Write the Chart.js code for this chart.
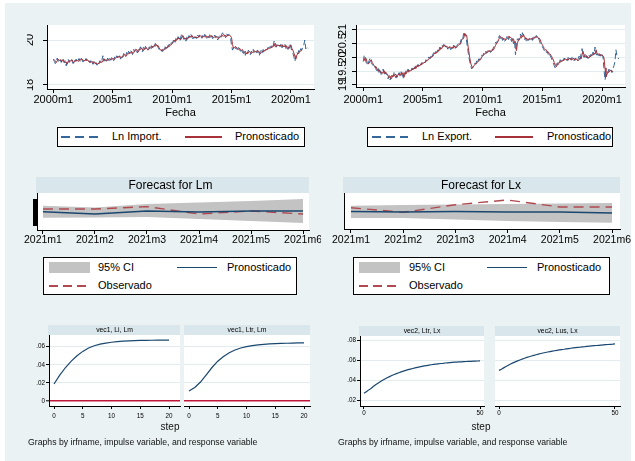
<!DOCTYPE html>
<html>
<head>
<meta charset="utf-8">
<title>Ajuste, pronóstico e impulso-respuesta</title>
<script src="https://cdn.jsdelivr.net/npm/chart.js@4.4.1/dist/chart.umd.min.js"></script>
<style>
  body { margin: 0; width: 635px; height: 461px; overflow: hidden; background: #fff; position: relative;
         font-family: "Liberation Sans", Arial, sans-serif; color: #000; }
  #bg { position: absolute; left: 5px; top: 3px; width: 626px; height: 458px; background: #eaf2f3; }
  canvas { position: absolute; }
  .legend { position: absolute; background: #fff; border: 1px solid #000; box-sizing: border-box; }
  .legend span { position: absolute; display: block; }
  .lab { font-size: 11px; line-height: 13px; white-space: nowrap; }
  .key { height: 1.5px; }
  .red-solid { background: #a8323a; }
  .blue-solid { background: #1a476f; }
  .blue-dash { background: repeating-linear-gradient(to right, #35679a 0 9px, transparent 9px 14px); }
  .red-dash { background: repeating-linear-gradient(to right, #b04a50 0 9px, transparent 9px 14px); }
  .band { background: #c3c3c3; }
  .note { position: absolute; white-space: nowrap; color: #111; }
</style>
</head>
<body>
<div id="bg"></div>

<canvas id="c-import" width="313" height="120" style="left:5px;top:3px"></canvas>
<canvas id="c-export" width="313" height="120" style="left:318px;top:3px"></canvas>

<div class="legend" style="left:57px;top:127px;width:248px;height:20px">
  <span class="key blue-dash" style="left:3px;top:8px;width:40px"></span>
  <span class="lab" style="left:54px;top:1.5px">Ln Import.</span>
  <span class="key red-solid" style="left:127px;top:8px;width:37px"></span>
  <span class="lab" style="left:177px;top:1.5px">Pronosticado</span>
</div>
<div class="legend" style="left:367px;top:127px;width:246px;height:20px">
  <span class="key blue-dash" style="left:4px;top:8px;width:36px"></span>
  <span class="lab" style="left:54px;top:1.5px">Ln Export.</span>
  <span class="key red-solid" style="left:127px;top:8px;width:38px"></span>
  <span class="lab" style="left:179px;top:1.5px">Pronosticado</span>
</div>

<canvas id="c-fc-lm" width="316" height="90" style="left:5px;top:165px"></canvas>
<canvas id="c-fc-lx" width="310" height="90" style="left:321px;top:165px"></canvas>

<div class="legend" style="left:43px;top:257px;width:254px;height:38px">
  <span class="band" style="left:5px;top:4px;width:41px;height:11px"></span>
  <span class="lab" style="left:54px;top:2.5px">95% CI</span>
  <span class="key blue-solid" style="left:133px;top:8.5px;width:40px"></span>
  <span class="lab" style="left:183px;top:2.5px">Pronosticado</span>
  <span class="key red-dash" style="left:5px;top:27px;width:37px"></span>
  <span class="lab" style="left:54px;top:20.5px">Observado</span>
</div>
<div class="legend" style="left:353px;top:257px;width:257px;height:38px">
  <span class="band" style="left:5px;top:4px;width:41px;height:11px"></span>
  <span class="lab" style="left:55px;top:2.5px">95% CI</span>
  <span class="key blue-solid" style="left:133px;top:8.5px;width:40px"></span>
  <span class="lab" style="left:183px;top:2.5px">Pronosticado</span>
  <span class="key red-dash" style="left:5px;top:27px;width:38px"></span>
  <span class="lab" style="left:55px;top:20.5px">Observado</span>
</div>

<canvas id="c-irf-li" width="191" height="102" style="left:5px;top:318px"></canvas>
<canvas id="c-irf-ltr" width="130" height="102" style="left:184px;top:318px"></canvas>
<canvas id="c-irf2-ltr" width="179" height="102" style="left:321px;top:318px"></canvas>
<canvas id="c-irf2-lus" width="130" height="102" style="left:495px;top:318px"></canvas>

<div class="note" style="left:150px;top:421px;width:40px;text-align:center;font-size:10px;line-height:12px">step</div>
<div class="note" style="left:461px;top:421px;width:40px;text-align:center;font-size:10px;line-height:12px">step</div>
<div class="note" style="left:28px;top:437px;font-size:8.7px;line-height:10px">Graphs by irfname, impulse variable, and response variable</div>
<div class="note" style="left:338px;top:437px;font-size:8.7px;line-height:10px">Graphs by irfname, impulse variable, and response variable</div>

<script>
// Monthly series, 2000m1 - 2021m6 (Ln Import.)
const lmActual = [
  19.15, 19.05, 18.95, 19.10, 19.20, 19.05, 19.15, 19.12, 19.00, 19.18, 19.10, 18.98,
  19.08, 18.85, 19.05, 19.15, 19.00, 19.10, 19.18, 19.05, 18.95, 19.12, 19.05, 19.15,
  19.00, 19.10, 19.18, 19.05, 19.20, 19.12, 19.02, 19.15, 19.08, 19.18, 19.10, 19.00,
  19.08, 18.98, 19.10, 19.02, 18.92, 19.05, 18.90, 19.00, 18.88, 19.02, 18.95, 19.08,
  18.98, 19.10, 19.30, 19.05, 19.15, 19.00, 19.12, 19.20, 19.05, 19.18, 19.10, 19.25,
  19.15, 19.08, 19.25, 19.18, 19.30, 19.20, 19.35, 19.25, 19.15, 19.32, 19.22, 19.40,
  19.30, 19.25, 19.45, 19.35, 19.50, 19.38, 19.55, 19.45, 19.35, 19.58, 19.48, 19.62,
  19.50, 19.42, 19.65, 19.55, 19.70, 19.58, 19.48, 19.68, 19.55, 19.72, 19.60, 19.52,
  19.62, 19.70, 19.58, 19.75, 19.65, 19.80, 19.72, 19.85, 19.70, 19.78, 19.65, 19.58,
  19.50, 19.58, 19.48, 19.62, 19.55, 19.70, 19.62, 19.78, 19.68, 19.82, 19.75, 19.88,
  19.85, 19.95, 20.05, 19.90, 20.10, 20.00, 20.15, 20.05, 19.95, 20.18, 20.28, 20.10,
  20.02, 20.12, 19.95, 20.15, 20.05, 20.20, 20.10, 20.25, 20.12, 20.05, 20.18, 20.08,
  20.15, 20.05, 20.22, 20.12, 20.25, 20.15, 20.08, 20.20, 20.10, 20.25, 20.15, 20.05,
  20.18, 20.10, 20.25, 20.12, 20.20, 20.05, 20.15, 20.22, 20.10, 20.18, 20.00, 20.12,
  20.20, 20.10, 20.25, 20.32, 20.15, 20.22, 20.10, 20.28, 20.18, 20.25, 20.20, 20.12,
  19.75, 19.55, 19.68, 19.60, 19.72, 19.65, 19.55, 19.68, 19.58, 19.50, 19.62, 19.45,
  19.40, 19.55, 19.32, 19.48, 19.38, 19.55, 19.45, 19.35, 19.50, 19.42, 19.58, 19.45,
  19.50, 19.40, 19.55, 19.45, 19.30, 19.48, 19.55, 19.42, 19.58, 19.50, 19.62, 19.55,
  19.60, 19.68, 19.58, 19.72, 19.65, 19.78, 19.70, 19.95, 19.75, 19.68, 19.82, 19.72,
  19.78, 19.70, 19.85, 19.65, 19.75, 19.68, 19.80, 19.62, 19.72, 19.58, 19.70, 19.85,
  19.65, 19.52, 19.40, 19.25, 19.05, 19.30, 19.45, 19.38, 19.55, 19.48, 19.62, 19.55,
  19.72, 19.78, 20.00, 19.60, 19.70, 19.63
];

// Pronosticado for imports, 2000m2 - 2020m12
const lmFitted = [
  19.12, 19.08, 19.00, 19.08, 19.15, 19.08, 19.12, 19.08, 19.06, 19.14, 19.05,
  19.00, 19.02, 18.92, 19.05, 19.08, 19.04, 19.10, 19.12, 19.02, 19.00, 19.08, 19.08,
  19.10, 19.05, 19.08, 19.14, 19.10, 19.15, 19.10, 19.06, 19.12, 19.10, 19.14, 19.08,
  19.04, 19.05, 19.00, 19.06, 18.98, 18.96, 19.00, 18.94, 18.96, 18.92, 18.98, 18.98,
  19.04, 19.00, 19.08, 19.18, 19.10, 19.10, 19.06, 19.14, 19.12, 19.10, 19.14, 19.14,
  19.20, 19.15, 19.14, 19.22, 19.22, 19.26, 19.24, 19.30, 19.22, 19.22, 19.28, 19.28,
  19.36, 19.32, 19.30, 19.40, 19.38, 19.45, 19.42, 19.50, 19.42, 19.42, 19.52, 19.52,
  19.58, 19.50, 19.48, 19.60, 19.58, 19.65, 19.56, 19.52, 19.62, 19.60, 19.66, 19.58,
  19.56, 19.62, 19.66, 19.62, 19.72, 19.68, 19.76, 19.72, 19.80, 19.72, 19.74, 19.64,
  19.58, 19.52, 19.56, 19.52, 19.60, 19.58, 19.66, 19.64, 19.74, 19.70, 19.78, 19.78,
  19.86, 19.88, 19.96, 20.00, 19.96, 20.06, 20.04, 20.10, 20.02, 20.02, 20.16, 20.20,
  20.08, 20.06, 20.08, 20.02, 20.12, 20.10, 20.16, 20.14, 20.20, 20.12, 20.10, 20.14,
  20.10, 20.12, 20.10, 20.18, 20.15, 20.20, 20.14, 20.12, 20.16, 20.14, 20.20, 20.12,
  20.10, 20.14, 20.12, 20.20, 20.14, 20.16, 20.10, 20.14, 20.18, 20.12, 20.14, 20.06,
  20.12, 20.16, 20.14, 20.22, 20.26, 20.18, 20.20, 20.14, 20.24, 20.20, 20.22, 20.18,
  20.10, 19.80, 19.62, 19.66, 19.62, 19.68, 19.62, 19.58, 19.64, 19.58, 19.54, 19.58,
  19.48, 19.45, 19.50, 19.38, 19.45, 19.42, 19.50, 19.45, 19.40, 19.46, 19.44, 19.52,
  19.48, 19.48, 19.44, 19.52, 19.46, 19.38, 19.46, 19.50, 19.46, 19.54, 19.52, 19.58,
  19.56, 19.60, 19.64, 19.62, 19.68, 19.66, 19.74, 19.72, 19.86, 19.74, 19.72, 19.78,
  19.74, 19.76, 19.74, 19.80, 19.70, 19.74, 19.70, 19.76, 19.66, 19.70, 19.62, 19.70,
  19.78, 19.62, 19.54, 19.42, 19.28, 19.15, 19.32, 19.42, 19.40, 19.52, 19.50, 19.58
];

// Monthly series, 2000m1 - 2021m6 (Ln Export.)
const lxActual = [
  19.85, 20.08, 19.95, 19.80, 19.72, 19.78, 19.90, 19.98, 19.82, 19.75, 19.70, 19.62,
  19.68, 19.55, 19.48, 19.60, 19.42, 19.52, 19.38, 19.45, 19.58, 19.35, 19.48, 19.40,
  19.32, 19.22, 19.35, 19.18, 19.28, 19.40, 19.30, 19.45, 19.35, 19.25, 19.42, 19.38,
  19.45, 19.32, 19.48, 19.40, 19.22, 19.50, 19.38, 19.52, 19.45, 19.58, 19.48, 19.55,
  19.52, 19.62, 19.55, 19.68, 19.58, 19.72, 19.65, 19.75, 19.68, 19.80, 19.72, 19.82,
  19.78, 19.85, 19.80, 19.92, 19.88, 19.95, 20.02, 19.95, 20.08, 20.02, 20.12, 20.18,
  20.10, 20.22, 20.18, 20.30, 20.25, 20.38, 20.32, 20.45, 20.40, 20.48, 20.35, 20.42,
  20.38, 20.30, 20.42, 20.35, 20.28, 20.40, 20.32, 20.45, 20.30, 20.38, 20.42, 20.48,
  20.52, 20.45, 20.62, 20.70, 20.65, 20.92, 20.80, 20.85, 20.55, 20.30, 20.05, 19.85,
  19.70, 19.58, 19.65, 19.72, 19.80, 19.75, 19.88, 19.82, 19.95, 19.90, 20.02, 20.08,
  20.05, 20.15, 20.10, 20.22, 20.15, 20.28, 20.20, 20.25, 20.18, 20.32, 20.25, 20.38,
  20.42, 20.55, 20.50, 20.65, 20.72, 20.80, 20.68, 20.75, 20.62, 20.70, 20.58, 20.65,
  20.72, 20.80, 20.65, 20.78, 20.70, 20.58, 20.72, 20.50, 20.62, 20.10, 20.55, 20.68,
  20.62, 20.75, 20.85, 20.70, 20.90, 20.78, 20.65, 20.72, 20.58, 20.68, 20.62, 20.70,
  20.65, 20.72, 20.62, 20.78, 20.70, 20.75, 20.80, 20.68, 20.72, 20.62, 20.50, 20.45,
  20.40, 20.32, 20.25, 20.30, 20.18, 20.22, 20.10, 20.15, 20.05, 19.98, 19.90, 19.80,
  19.70, 19.62, 19.78, 19.72, 19.85, 19.80, 19.92, 19.85, 19.95, 19.88, 19.98, 19.90,
  19.95, 19.88, 20.00, 19.92, 19.98, 19.90, 20.02, 19.95, 19.88, 19.98, 19.92, 19.85,
  19.95, 20.05, 19.92, 20.15, 20.32, 20.08, 20.00, 20.12, 19.98, 20.05, 19.95, 20.08,
  20.02, 20.12, 20.05, 20.20, 20.10, 20.38, 20.15, 20.08, 20.18, 20.05, 20.12, 20.00,
  20.10, 20.02, 19.55, 19.18, 19.35, 19.50, 19.45, 19.58, 19.48, 19.55, 19.45, 19.60,
  19.70, 19.85, 20.28, 20.05, 19.98, 19.95
];

// Pronosticado for exports, 2000m2 - 2020m12
const lxFitted = [
  19.88, 20.00, 19.95, 19.82, 19.76, 19.80, 19.88, 19.92, 19.82, 19.76, 19.70,
  19.65, 19.66, 19.55, 19.50, 19.56, 19.46, 19.48, 19.42, 19.48, 19.52, 19.40, 19.45,
  19.40, 19.32, 19.26, 19.32, 19.22, 19.28, 19.36, 19.32, 19.40, 19.35, 19.28, 19.38,
  19.38, 19.42, 19.35, 19.45, 19.38, 19.28, 19.45, 19.40, 19.50, 19.46, 19.54, 19.50,
  19.54, 19.54, 19.60, 19.58, 19.65, 19.60, 19.70, 19.66, 19.72, 19.70, 19.77, 19.74,
  19.80, 19.80, 19.84, 19.84, 19.90, 19.90, 19.96, 20.00, 19.98, 20.05, 20.04, 20.12,
  20.16, 20.14, 20.20, 20.20, 20.28, 20.26, 20.35, 20.32, 20.42, 20.40, 20.45, 20.38,
  20.40, 20.38, 20.34, 20.40, 20.36, 20.32, 20.38, 20.35, 20.42, 20.34, 20.38, 20.42,
  20.46, 20.50, 20.50, 20.64, 20.68, 20.70, 20.88, 20.80, 20.80, 20.50, 20.25, 20.00,
  19.80, 19.68, 19.62, 19.68, 19.74, 19.78, 19.78, 19.86, 19.86, 19.94, 19.92, 20.02,
  20.06, 20.08, 20.14, 20.14, 20.20, 20.18, 20.25, 20.22, 20.24, 20.22, 20.30, 20.28,
  20.36, 20.44, 20.52, 20.54, 20.64, 20.72, 20.76, 20.70, 20.72, 20.65, 20.68, 20.62,
  20.66, 20.70, 20.76, 20.70, 20.74, 20.70, 20.62, 20.68, 20.54, 20.58, 20.25, 20.52,
  20.64, 20.64, 20.74, 20.80, 20.74, 20.84, 20.76, 20.68, 20.70, 20.62, 20.66, 20.64,
  20.68, 20.66, 20.70, 20.66, 20.74, 20.72, 20.74, 20.76, 20.70, 20.70, 20.64, 20.52,
  20.46, 20.40, 20.32, 20.28, 20.28, 20.20, 20.20, 20.12, 20.12, 20.06, 20.00, 19.92,
  19.82, 19.72, 19.66, 19.75, 19.74, 19.82, 19.82, 19.88, 19.86, 19.92, 19.90, 19.95,
  19.92, 19.94, 19.90, 19.97, 19.94, 19.96, 19.92, 19.98, 19.94, 19.90, 19.95, 19.92,
  19.88, 19.92, 20.00, 19.95, 20.10, 20.22, 20.06, 20.02, 20.08, 20.00, 20.02, 19.98,
  20.05, 20.04, 20.10, 20.08, 20.16, 20.12, 20.28, 20.14, 20.10, 20.14, 20.08, 20.10,
  20.08, 20.06, 19.98, 19.62, 19.30, 19.38, 19.48, 19.46, 19.54, 19.50, 19.52, 19.48
];

// Tick positions (months since 2000m1) and labels for the date axes
const dateTickMonths = [0, 60, 120, 180, 240];
const dateTickLabels = ['2000m1', '2005m1', '2010m1', '2015m1', '2020m1'];
const lmTickValues = [18, 20];
const lmTickLabels = ['18', '20'];
const lxTickValues = [19, 19.5, 20, 20.5, 21];
const lxTickLabels = ['19', '19.5', '20', '20.5', '21'];

// Out-of-sample forecasts, 2021m1 - 2021m6
const fcMonthTicks = [1, 2, 3, 4, 5, 6];
const fcMonthLabels = ['2021m1', '2021m2', '2021m3', '2021m4', '2021m5', '2021m6'];
const lmForecast = [19.72, 19.665, 19.74, 19.715, 19.74, 19.74];
const lmObserved = [19.79, 19.79, 19.85, 19.665, 19.74, 19.665];
const lmUpper = [19.87, 19.83, 19.915, 19.95, 19.99, 20.04];
const lmLower = [19.57, 19.58, 19.59, 19.54, 19.49, 19.44];
const lxForecast = [20.0, 19.99, 20.0, 19.99, 19.99, 19.97];
const lxObserved = [20.076, 19.984, 20.136, 20.23, 20.09, 20.09];
const lxUpper = [20.116, 20.13, 20.14, 20.15, 20.16, 20.17];
const lxLower = [19.87, 19.87, 19.84, 19.81, 19.79, 19.776];

// Impulse responses, steps 0 - 20 (vec1) and 0 - 50 (vec2)
const irfLiLm = [0.0188, 0.0285, 0.0370, 0.0440, 0.0500, 0.0548, 0.0585, 0.0610, 0.0628, 0.0640, 0.0649,
  0.0656, 0.0661, 0.0664, 0.0667, 0.0669, 0.0670, 0.0671, 0.0672, 0.0672, 0.0673];
const irfLtrLm = [0.0110, 0.0150, 0.0210, 0.0290, 0.0370, 0.0440, 0.0492, 0.0533, 0.0563, 0.0585, 0.0601,
  0.0612, 0.0620, 0.0626, 0.0630, 0.0634, 0.0636, 0.0638, 0.0640, 0.0641, 0.0642];
const irfLtrLx = [0.0275, 0.0290, 0.0305, 0.0322, 0.0340, 0.0357, 0.0373, 0.0388, 0.0402, 0.0415,
  0.0427, 0.0438, 0.0449, 0.0459, 0.0468, 0.0477, 0.0485, 0.0493, 0.0500, 0.0507,
  0.0513, 0.0519, 0.0525, 0.0530, 0.0535, 0.0540, 0.0544, 0.0548, 0.0552, 0.0556,
  0.0559, 0.0562, 0.0565, 0.0568, 0.0570, 0.0573, 0.0575, 0.0577, 0.0579, 0.0581,
  0.0582, 0.0584, 0.0585, 0.0587, 0.0588, 0.0589, 0.0590, 0.0591, 0.0592, 0.0593, 0.0594];
const irfLusLx = [0.0500, 0.0512, 0.0525, 0.0538, 0.0551, 0.0563, 0.0574, 0.0584, 0.0594, 0.0603,
  0.0612, 0.0620, 0.0628, 0.0635, 0.0642, 0.0649, 0.0655, 0.0661, 0.0667, 0.0672,
  0.0677, 0.0682, 0.0686, 0.0690, 0.0694, 0.0698, 0.0702, 0.0706, 0.0709, 0.0713,
  0.0716, 0.0719, 0.0722, 0.0725, 0.0728, 0.0730, 0.0733, 0.0735, 0.0738, 0.0740,
  0.0742, 0.0744, 0.0746, 0.0748, 0.0750, 0.0752, 0.0754, 0.0756, 0.0758, 0.0760, 0.0763];
const irfStepsShort = [0, 5, 10, 15, 20];
const irfStepsLong = [0, 50];
const irfLmTicks = [0, 0.02, 0.04, 0.06];
const irfLmLabels = ['0', '.02', '.04', '.06'];
const irfLxTicks = [0.02, 0.04, 0.06, 0.08];
const irfLxLabels = ['.02', '.04', '.06', '.08'];

// Colours
const black = '#000';
const gridColor = '#e2ebee';
const dataBlue = '#35679a';
const fitRed = '#a8323a';
const navy = '#1a476f';
const obsRed = '#b04a50';
const bandGray = '#c3c3c3';
const zeroRed = '#c0163a';

Chart.defaults.font.family = "'Liberation Sans', Arial, sans-serif";
Chart.defaults.color = black;

// White plot region and the shaded strip behind each subtitle
Chart.register({
  id: 'stataFrame',
  beforeDraw(chart) {
    const { ctx, chartArea: a } = chart;
    ctx.save();
    ctx.fillStyle = '#fff';
    ctx.fillRect(a.left, a.top, a.right - a.left, a.bottom - a.top);
    const t = chart.titleBlock;
    if (t && t.options.display) {
      ctx.fillStyle = '#d9e6eb';
      ctx.fillRect(a.left - 1, t.top, a.right - a.left + 1, t.bottom - t.top);
    }
    ctx.restore();
  }
});

function toPoints(values, first) {
  return values.map((v, i) => ({ x: first + i, y: v }));
}

// Fix the axis box so that the plot region lands where the original has it
function fixSize(size) {
  return (scale) => {
    if (scale.isHorizontal()) scale.height = size;
    else scale.width = size;
    scale.paddingLeft = 0;
    scale.paddingRight = 0;
    scale.paddingTop = 0;
    scale.paddingBottom = 0;
  };
}

function setTicks(values) {
  return (scale) => { scale.ticks = values.map((v) => ({ value: v })); };
}

function baseOptions(padding, title, scales) {
  return {
    responsive: false,
    animation: false,
    layout: { padding },
    plugins: {
      legend: { display: false },
      tooltip: { enabled: false },
      title: title
        ? { display: true, text: title.text, color: black,
            font: { size: title.size, weight: 'normal', lineHeight: 1.2 },
            padding: { top: 1, bottom: title.bottom } }
        : { display: false }
    },
    scales
  };
}

function dateAxis(min, max, height, pad) {
  return {
    type: 'linear', min, max,
    afterBuildTicks: setTicks(dateTickMonths),
    afterFit: fixSize(height),
    ticks: { callback: (v, i) => dateTickLabels[i], font: { size: 11 }, padding: pad, maxRotation: 0, autoSkip: false },
    grid: { drawOnChartArea: false, tickLength: 4, tickColor: black },
    border: { color: black },
    title: { display: true, text: 'Fecha', font: { size: 11 }, padding: 0 }
  };
}

function levelAxis(min, max, values, labels, pad) {
  return {
    type: 'linear', min, max,
    afterBuildTicks: setTicks(values),
    afterFit: fixSize(20),
    ticks: { callback: (v, i) => labels[i], font: { size: 11 }, minRotation: 90, maxRotation: 90,
             crossAlign: 'center', padding: pad, autoSkip: false },
    grid: { color: gridColor, tickColor: black, tickLength: 4 },
    border: { color: black }
  };
}

function monthAxis(min, max, pad) {
  return {
    type: 'linear', min, max,
    afterBuildTicks: setTicks(fcMonthTicks),
    afterFit: fixSize(20),
    ticks: { callback: (v, i) => fcMonthLabels[i], font: { size: 10.5 }, padding: pad, maxRotation: 0, autoSkip: false },
    grid: { drawOnChartArea: false, tickLength: 4, tickColor: black },
    border: { color: black }
  };
}

function stepAxis(min, max, steps, pad) {
  return {
    type: 'linear', min, max,
    afterBuildTicks: setTicks(steps),
    afterFit: fixSize(12),
    ticks: { font: { size: 6.3 }, padding: pad, maxRotation: 0, autoSkip: false },
    grid: { drawOnChartArea: false, tickLength: 3, tickColor: black },
    border: { color: black }
  };
}

function irfAxis(min, max, values, labels, withLabels) {
  return {
    type: 'linear', min, max,
    afterBuildTicks: setTicks(values),
    afterFit: fixSize(withLabels ? 16 : 0),
    ticks: { display: withLabels, callback: (v, i) => labels[i], font: { size: 6.3 }, padding: 1, autoSkip: false },
    grid: {
      color: (c) => (c.tick.value === 0 ? zeroRed : gridColor),
      lineWidth: (c) => (c.tick.value === 0 ? 1.6 : 1),
      tickColor: black, tickWidth: 1, tickLength: 3, drawTicks: withLabels
    },
    border: { display: withLabels, color: black }
  };
}

// Empty right-hand box so the subtitle centres over the plot region
const spacerAxis = {
  position: 'right', type: 'linear', display: true,
  afterFit: fixSize(16),
  ticks: { display: false }, grid: { display: false }, border: { display: false }
};

// Fitted vs actual, imports
new Chart(document.getElementById('c-import'), {
  type: 'line',
  data: { datasets: [
    { label: 'Pronosticado', data: toPoints(lmFitted, 1), borderColor: fitRed, borderWidth: 1, pointRadius: 0, order: 0 },
    { label: 'Ln Import.', data: toPoints(lmActual, 0), borderColor: dataBlue, borderWidth: 1, borderDash: [6, 3], pointRadius: 0, order: 1 }
  ] },
  options: baseOptions({ left: 22, top: 22, right: 4, bottom: 3 }, null, {
    x: dateAxis(-6.4, 263.3, 31, 0.5),
    y: levelAxis(17.822, 20.667, lmTickValues, lmTickLabels, 7)
  })
});

// Fitted vs actual, exports
new Chart(document.getElementById('c-export'), {
  type: 'line',
  data: { datasets: [
    { label: 'Pronosticado', data: toPoints(lxFitted, 1), borderColor: fitRed, borderWidth: 1, pointRadius: 0, order: 0 },
    { label: 'Ln Export.', data: toPoints(lxActual, 0), borderColor: dataBlue, borderWidth: 1, borderDash: [6, 3], pointRadius: 0, order: 1 }
  ] },
  options: baseOptions({ left: 18, top: 22, right: 6, bottom: 3 }, null, {
    x: dateAxis(-7.3, 263.1, 33, 2.4),
    y: levelAxis(18.927, 21.18, lxTickValues, lxTickLabels, -1.7)
  })
});

function forecastData(forecast, observed, upper, lower) {
  return { datasets: [
    { label: 'Pronosticado', data: toPoints(forecast, 1), borderColor: navy, borderWidth: 1.5, pointRadius: 0 },
    { label: 'Observado', data: toPoints(observed, 1), borderColor: obsRed, borderWidth: 1.4, borderDash: [10, 6], pointRadius: 0 },
    { label: '95% CI', data: toPoints(upper, 1), borderWidth: 0, pointRadius: 0, backgroundColor: bandGray, fill: '+1' },
    { label: '95% CI lower', data: toPoints(lower, 1), borderWidth: 0, pointRadius: 0, fill: false }
  ] };
}

// Forecast for Lm
new Chart(document.getElementById('c-fc-lm'), {
  type: 'line',
  data: forecastData(lmForecast, lmObserved, lmUpper, lmLower),
  options: baseOptions({ left: 27, top: 12, right: 12, bottom: 5 }, { text: 'Forecast for Lm', size: 12, bottom: 0.6 }, {
    x: monthAxis(0.885, 6.115, 0),
    y: {
      type: 'linear', min: 19.265, max: 20.19,
      afterBuildTicks: (s) => {
        s.ticks = [];
        for (let v = 19.39; v <= 20.041; v += 0.025) s.ticks.push({ value: v });
      },
      afterFit: fixSize(5),
      ticks: { display: false },
      grid: { drawOnChartArea: false, tickLength: 4, tickColor: black },
      border: { color: black }
    }
  })
});

// Forecast for Lx
new Chart(document.getElementById('c-fc-lx'), {
  type: 'line',
  data: forecastData(lxForecast, lxObserved, lxUpper, lxLower),
  options: baseOptions({ left: 21, top: 12, right: 11, bottom: 6 }, { text: 'Forecast for Lx', size: 12, bottom: 0.6 }, {
    x: monthAxis(0.866, 6.153, 0.7),
    y: {
      type: 'linear', min: 19.65, max: 20.37,
      afterFit: fixSize(2),
      ticks: { display: false },
      grid: { display: false },
      border: { color: black }
    }
  })
});

function irfData(values) {
  return { datasets: [
    { label: 'irf', data: toPoints(values, 0), borderColor: navy, borderWidth: 1.2, pointRadius: 0 }
  ] };
}

const irfTitle = (text) => ({ text, size: 6.8, bottom: 0.84 });

// vec1 impulse responses on Lm
new Chart(document.getElementById('c-irf-li'), {
  type: 'line',
  data: irfData(irfLiLm),
  options: baseOptions({ left: 28, top: 7, right: 0, bottom: 2 }, irfTitle('vec1, Li, Lm'), {
    x: stepAxis(-0.87, 21.9, irfStepsShort, 3),
    y: irfAxis(-0.0055, 0.0729, irfLmTicks, irfLmLabels, true),
    pad: spacerAxis
  })
});

new Chart(document.getElementById('c-irf-ltr'), {
  type: 'line',
  data: irfData(irfLtrLm),
  options: baseOptions({ left: 0, top: 7, right: 4, bottom: 2 }, irfTitle('vec1, Ltr, Lm'), {
    x: stepAxis(-0.87, 21.04, irfStepsShort, 3),
    y: irfAxis(-0.0055, 0.0729, irfLmTicks, irfLmLabels, false)
  })
});

// vec2 impulse responses on Lx
new Chart(document.getElementById('c-irf2-ltr'), {
  type: 'line',
  data: irfData(irfLtrLx),
  options: baseOptions({ left: 23, top: 8, right: 0, bottom: 2 }, irfTitle('vec2, Ltr, Lx'), {
    x: stepAxis(-1.72, 51.72, irfStepsLong, 0),
    y: irfAxis(0.0148, 0.084, irfLxTicks, irfLxLabels, true),
    pad: spacerAxis
  })
});

new Chart(document.getElementById('c-irf2-lus'), {
  type: 'line',
  data: irfData(irfLusLx),
  options: baseOptions({ left: 0, top: 8, right: 5, bottom: 2 }, irfTitle('vec2, Lus, Lx'), {
    x: stepAxis(-1.73, 52.16, irfStepsLong, 0),
    y: irfAxis(0.0148, 0.084, irfLxTicks, irfLxLabels, false)
  })
});
</script>
</body>
</html>
